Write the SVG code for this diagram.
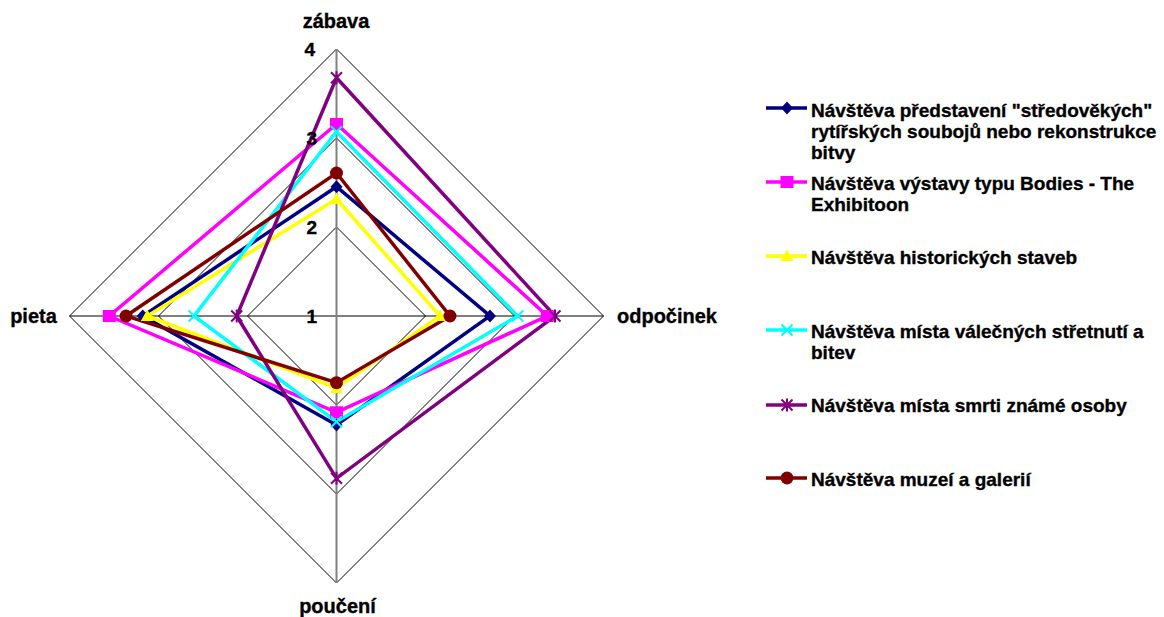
<svg xmlns="http://www.w3.org/2000/svg" xmlns:xlink="http://www.w3.org/1999/xlink" width="1164" height="617" viewBox="0 0 1164 617">
<style>
text{font-family:"Liberation Sans",Arial,sans-serif;font-weight:bold;fill:#000;stroke:#000;stroke-width:0.35}
.ax{font-size:20px;text-anchor:middle}
.tk{font-size:19px;text-anchor:end}
.lg{font-size:19px}
.grid{fill:none;stroke:#000;stroke-width:1}
.s{fill:none;stroke-width:3.5;stroke-linejoin:miter}
</style>
<defs>
<polygon id="mDia" points="0,-6.5 6,0 0,6.5 -6,0" fill="#000080"/>
<rect id="mSq" x="-6.5" y="-6" width="13" height="12" fill="#FF00FF"/>
<polygon id="mTri" points="0,-6.5 6.5,5 -6.5,5" fill="#FFFF00"/>
<path id="mX" d="M-5.5,-5.5 L5.5,5.5 M-5.5,5.5 L5.5,-5.5" stroke="#00FFFF" stroke-width="2" fill="none"/>
<path id="mStar" d="M-5.5,-5.5 L5.5,5.5 M-5.5,5.5 L5.5,-5.5 M0,-6.5 L0,6.5" stroke="#800080" stroke-width="2" fill="none"/>
<circle id="mCir" r="6.5" fill="#800000"/>
</defs>
<rect width="1164" height="617" fill="#fff"/>
<g id="grid">
<polygon class="grid" points="336.5,49 603.5,316 336.5,583 69.5,316"/>
<polygon class="grid" points="336.5,138 514.5,316 336.5,494 158.5,316"/>
<polygon class="grid" points="336.5,227 425.5,316 336.5,405 247.5,316"/>
<line x1="69.5" y1="316" x2="603.5" y2="316" stroke="#000" stroke-width="1.2"/>
<line x1="336.5" y1="49" x2="336.5" y2="583" stroke="#808080" stroke-width="2"/>
</g>
<g id="axis-labels">
<text class="ax" x="336" y="28">zábava</text>
<text class="ax" x="667" y="323">odpočinek</text>
<text class="ax" x="337.5" y="613">poučení</text>
<text class="ax" x="33.5" y="323">pieta</text>
</g>
<g id="connectors">
<polygon id="s1" class="s" stroke="#000080" points="336.5,186.7 490,316 336.5,425 142.7,316"/>
<polygon id="s2" class="s" stroke="#FF00FF" points="336.5,124 547.3,316 336.5,412.3 109.3,316"/>
<polygon id="s3" class="s" stroke="#FFFF00" points="336.5,199 440,316 336.5,388 147.3,316"/>
<polygon id="s4" class="s" stroke="#00FFFF" points="336.5,131.7 517.7,316 336.5,421.7 194,316"/>
<polygon id="s5" class="s" stroke="#800080" points="336.5,77.7 555,316 336.5,478.3 236.7,316"/>
<polygon id="s6" class="s" stroke="#800000" points="336.5,173 450,316 336.5,382.7 126,316"/>
</g>
<g id="markers">
<use xlink:href="#mDia" x="336.5" y="186.7"/><use xlink:href="#mDia" x="490" y="316"/><use xlink:href="#mDia" x="336.5" y="425"/><use xlink:href="#mDia" x="142.7" y="316"/>
<use xlink:href="#mSq" x="336.5" y="124"/><use xlink:href="#mSq" x="547.3" y="316"/><use xlink:href="#mSq" x="336.5" y="412.3"/><use xlink:href="#mSq" x="109.3" y="316"/>
<use xlink:href="#mTri" x="336.5" y="199"/><use xlink:href="#mTri" x="440" y="316"/><use xlink:href="#mTri" x="336.5" y="388"/><use xlink:href="#mTri" x="147.3" y="316"/>
<use xlink:href="#mX" x="336.5" y="131.7"/><use xlink:href="#mX" x="517.7" y="316"/><use xlink:href="#mX" x="336.5" y="421.7"/><use xlink:href="#mX" x="194" y="316"/>
<use xlink:href="#mStar" x="336.5" y="77.7"/><use xlink:href="#mStar" x="555" y="316"/><use xlink:href="#mStar" x="336.5" y="478.3"/><use xlink:href="#mStar" x="236.7" y="316"/>
<use xlink:href="#mCir" x="336.5" y="173"/><use xlink:href="#mCir" x="450" y="316"/><use xlink:href="#mCir" x="336.5" y="382.7"/><use xlink:href="#mCir" x="126" y="316"/>
</g>
<g id="tick-labels">
<text class="tk" x="315" y="56">4</text>
<text class="tk" x="317" y="145">3</text>
<text class="tk" x="317" y="234">2</text>
<text class="tk" x="317" y="323">1</text>
</g>
<g id="legend">
<g id="leg1">
<line x1="766" y1="108" x2="807" y2="108" stroke="#000080" stroke-width="3.5"/>
<use xlink:href="#mDia" x="787" y="108"/>
<text class="lg" x="811" y="116.5">Návštěva představení "středověkých"</text>
<text class="lg" x="811" y="138">rytířských soubojů nebo rekonstrukce</text>
<text class="lg" x="811" y="158.5">bitvy</text>
</g>
<g id="leg2">
<line x1="766" y1="182" x2="807" y2="182" stroke="#FF00FF" stroke-width="3.5"/>
<use xlink:href="#mSq" x="787" y="182"/>
<text class="lg" x="811" y="190">Návštěva výstavy typu Bodies - The</text>
<text class="lg" x="811" y="211">Exhibitoon</text>
</g>
<g id="leg3">
<line x1="766" y1="256" x2="807" y2="256" stroke="#FFFF00" stroke-width="3.5"/>
<use xlink:href="#mTri" x="787" y="256"/>
<text class="lg" x="811" y="263.5">Návštěva historických staveb</text>
</g>
<g id="leg4">
<line x1="766" y1="330" x2="807" y2="330" stroke="#00FFFF" stroke-width="3.5"/>
<use xlink:href="#mX" x="787" y="330"/>
<text class="lg" x="811" y="337.5">Návštěva místa válečných střetnutí a</text>
<text class="lg" x="811" y="358.5">bitev</text>
</g>
<g id="leg5">
<line x1="766" y1="405" x2="807" y2="405" stroke="#800080" stroke-width="3.5"/>
<use xlink:href="#mStar" x="787" y="405"/>
<text class="lg" x="811" y="412">Návštěva místa smrti známé osoby</text>
</g>
<g id="leg6">
<line x1="766" y1="478" x2="807" y2="478" stroke="#800000" stroke-width="3.5"/>
<use xlink:href="#mCir" x="787" y="478"/>
<text class="lg" x="811" y="485.5">Návštěva muzeí a galerií</text>
</g>
</g>
</svg>
